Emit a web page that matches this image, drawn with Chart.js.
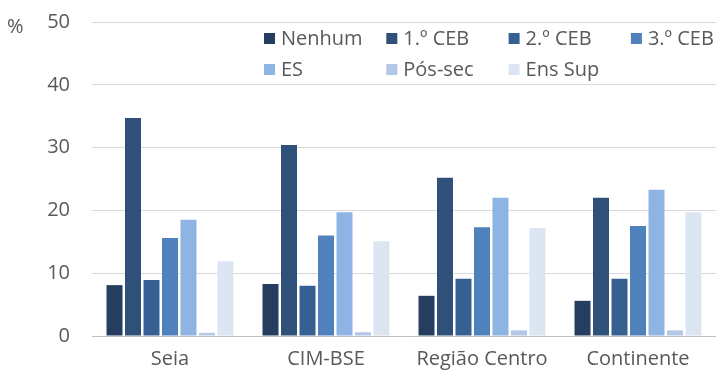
<!DOCTYPE html>
<html>
<head>
<meta charset="utf-8">
<script src="https://cdn.jsdelivr.net/npm/chart.js@4/dist/chart.umd.min.js"></script>
<style>
html,body{margin:0;padding:0;background:#fff;}
#wrap{width:716px;height:377px;position:relative;}
</style>
</head>
<body>
<div id="wrap"><canvas id="c" width="716" height="377"></canvas></div>
<script>
const categories = ['Seia', 'CIM-BSE', 'Região Centro', 'Continente'];
const seriesNames = ['Nenhum', '1.º CEB', '2.º CEB', '3.º CEB', 'ES', 'Pós-sec', 'Ens Sup'];
const nenhum = [8.1, 8.3, 6.4, 5.6];
const ceb1 = [34.7, 30.4, 25.2, 22.0];
const ceb2 = [8.9, 8.0, 9.1, 9.1];
const ceb3 = [15.6, 16.0, 17.3, 17.5];
const es = [18.5, 19.7, 22.0, 23.3];
const posSec = [0.5, 0.6, 0.9, 0.9];
const ensSup = [11.9, 15.1, 17.2, 19.7];
const yTicks = [0, 10, 20, 30, 40, 50];
const colors = ['#253e5f', '#2f5079', '#366092', '#4f81bd', '#8eb4e3', '#b4c7e7', '#dce6f2'];

const FONT = "'Open Sans', 'Noto Sans', sans-serif";
const TXT = '#595959';
const values = [nenhum, ceb1, ceb2, ceb3, es, posSec, ensSup];

const legendPlugin = {
  id: 'customLegend',
  afterDraw(chart) {
    const ctx = chart.ctx;
    ctx.save();
    ctx.font = '20px ' + FONT;
    ctx.fillStyle = TXT;
    ctx.textBaseline = 'middle';
    ctx.textAlign = 'left';
    ctx.fillText('%', 7, 27);
    const x0 = 264, colW = 122.3, rowY = [38.5, 69.5];
    seriesNames.forEach((name, i) => {
      const col = i % 4, row = Math.floor(i / 4);
      const x = x0 + col * colW;
      const y = rowY[row];
      ctx.fillStyle = colors[i];
      ctx.fillRect(x, y - 5.5, 11, 11);
      ctx.fillStyle = TXT;
      ctx.fillText(name, x + 17, y + 1);
    });
    ctx.restore();
  }
};

new Chart(document.getElementById('c'), {
  type: 'bar',
  data: {
    labels: categories,
    datasets: seriesNames.map((n, i) => ({
      label: n,
      data: values[i],
      backgroundColor: colors[i],
      borderWidth: 0,
      categoryPercentage: 0.83,
      barPercentage: 0.865
    }))
  },
  options: {
    responsive: false,
    animation: false,
    devicePixelRatio: 1,
    layout: { padding: { top: 22, right: 0, left: 0, bottom: 0 } },
    plugins: { legend: { display: false }, tooltip: { enabled: false } },
    scales: {
      x: {
        grid: { display: false, drawTicks: false },
        border: { display: true, color: '#bfbfbf', width: 1 },
        ticks: { color: TXT, font: { family: FONT, size: 20 }, padding: 11, maxRotation: 0 },
        afterFit(s) { s.height = 41; s.paddingLeft = 0; s.paddingRight = 0; }
      },
      y: {
        min: 0, max: 50,
        afterBuildTicks(s) { s.ticks = yTicks.map(v => ({ value: v })); },
        grid: { color: '#d9d9d9', drawTicks: false },
        border: { display: false },
        ticks: { color: TXT, font: { family: FONT, size: 20 }, padding: 22 },
        afterFit(s) { s.width = 92; s.paddingTop = 0; s.paddingBottom = 0; }
      }
    }
  },
  plugins: [legendPlugin]
});
</script>
</body>
</html>
